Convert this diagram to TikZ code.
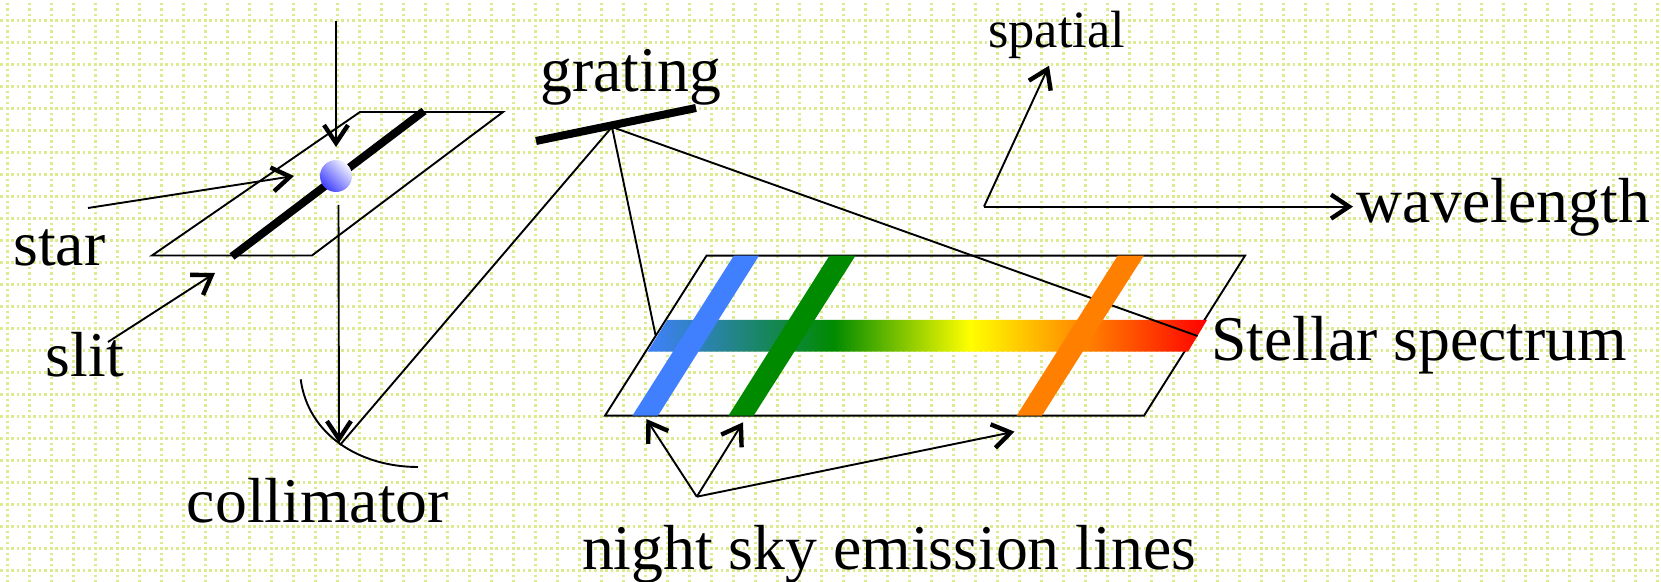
\documentclass[tikz,border=0pt]{standalone}
\usepackage{fontspec}
\setmainfont{Liberation Serif}
\usepackage{xcolor}
\usetikzlibrary{arrows.meta,positioning,calc}
\definecolor{griddot}{HTML}{DDEA90}
\definecolor{skyblue}{HTML}{4080FF}
\definecolor{skygreen}{HTML}{008A00}
\definecolor{skyorange}{HTML}{FF8000}
\pgfdeclarehorizontalshading{spectrumshade}{100bp}{
  color(0bp)=(skyblue);
  color(25bp)=(skyblue);
  color(41.6bp)=(skygreen);
  color(53.8bp)=(yellow);
  color(75bp)=(red);
  color(100bp)=(red)}
\tikzset{
  gridline/.style={griddot,line width=1.3pt,dash pattern=on 1.25pt off 1.5pt},
  thinline/.style={black,line width=0.95pt},
  thickbar/.style={black,line width=4pt},
  arr/.style={thinline,-{Straight Barb[length=9pt,width=12pt,line width=2.2pt]}},
  bigtxt/.style={anchor=base west,inner sep=0pt,font=\fontsize{31.85}{36}\selectfont},
  smalltxt/.style={anchor=base west,inner sep=0pt,font=\fontsize{26.2}{30}\selectfont},
  skyline/.style={draw=none,fill=#1},
}

\begin{document}
\begin{tikzpicture}[x=0.5pt,y=-0.5pt]
\useasboundingbox (0,0) rectangle (1661,582);
\foreach \i in {0,...,75} \draw[gridline] ({7.3+22*\i},2.7) -- ++(0,580);
\foreach \i in {0,...,25} \draw[gridline] (0.4,{20.6+22*\i}) -- ++(1661,0);

\coordinate (topin) at (336,21);
\coordinate (topend) at (336,147);
\coordinate (sidein) at (88,208);
\coordinate (sideend) at (294,176);
\coordinate (slitin) at (108,342);
\coordinate (slitend) at (215,273);
\coordinate (down) at (338.5,205);
\coordinate (collin) at (339,443);
\coordinate (collout) at (340,445);
\coordinate (gratmid) at (612,127);
\coordinate (plateleft) at (655.5,335);
\coordinate (plateright) at (1197.6,336);
\coordinate (axis) at (984,206.6);
\coordinate (axisup) at (1049,65.7);
\coordinate (axisright) at (1353,206.6);
\coordinate (fan) at (696.8,496.7);
\coordinate (fanblue) at (646.3,419);
\coordinate (fangreen) at (743,422.3);
\coordinate (fanorange) at (1014.5,431.7);

\draw[thinline] (152,255.5) -- (360,112) -- (503,112) -- (312,255.5) -- cycle;
\draw[thickbar] (232,256.5) -- (424,111);
\node[circle,minimum size=16pt,inner sep=0pt,left color=blue!4,right color=blue!75,shading angle=-45] (star) at (336,176) {};
\draw[arr] (topin) -- (topend);
\draw[arr] (sidein) -- (sideend);
\draw[arr] (slitin) -- (slitend);
\draw[arr] (down) -- (collin);
\draw[thinline] (300.7,379.3) .. controls (308,435) and (360,467) .. (418,467);
\draw[thickbar] (536,141) -- (696,108);
\draw[thinline] (collout) -- (gratmid);
\draw[thinline] (gratmid) -- (plateleft);

\draw[thinline] (605,415.7) -- (706.5,255.7) -- (1245,255.7) -- (1144,415.7) -- cycle;
\shade[shading=spectrumshade] (667.3,320) -- (1207,320) -- (1188,351.7) -- (647.5,351.7) -- cycle;
\draw[thinline] (gratmid) -- (plateright);
\fill[skyline=skyblue] (632.4,415.7) -- (733.8,255.7) -- (759,255.7) -- (658,415.7) -- cycle;
\fill[skyline=skygreen] (728.4,415.7) -- (829.4,255.7) -- (855.5,255.7) -- (753.6,415.7) -- cycle;
\fill[skyline=skyorange] (1016.6,415.7) -- (1117.7,255.7) -- (1143.8,255.7) -- (1042,415.7) -- cycle;

\draw[arr] (axis) -- (axisup);
\draw[arr] (axis) -- (axisright);
\draw[arr] (fan) -- (fanblue);
\draw[arr] (fan) -- (fangreen);
\draw[arr] (fan) -- (fanorange);

\node[bigtxt] (startxt) at (13,266) {star};
\node[bigtxt] (slittxt) at (45.5,377) {slit};
\node[bigtxt] (colltxt) at (186.5,523) {collimator};
\node[bigtxt] (grattxt) at (540,92) {grating};
\node[smalltxt] (spatxt) at (988,47.7) {spatial};
\node[bigtxt] (wavetxt) at (1356,223) {wavelength};
\node[bigtxt] (spectxt) at (1211,360.5) {Stellar spectrum};
\node[bigtxt] (nighttxt) at (581.6,570) {night sky emission lines};
\end{tikzpicture}
\end{document}
